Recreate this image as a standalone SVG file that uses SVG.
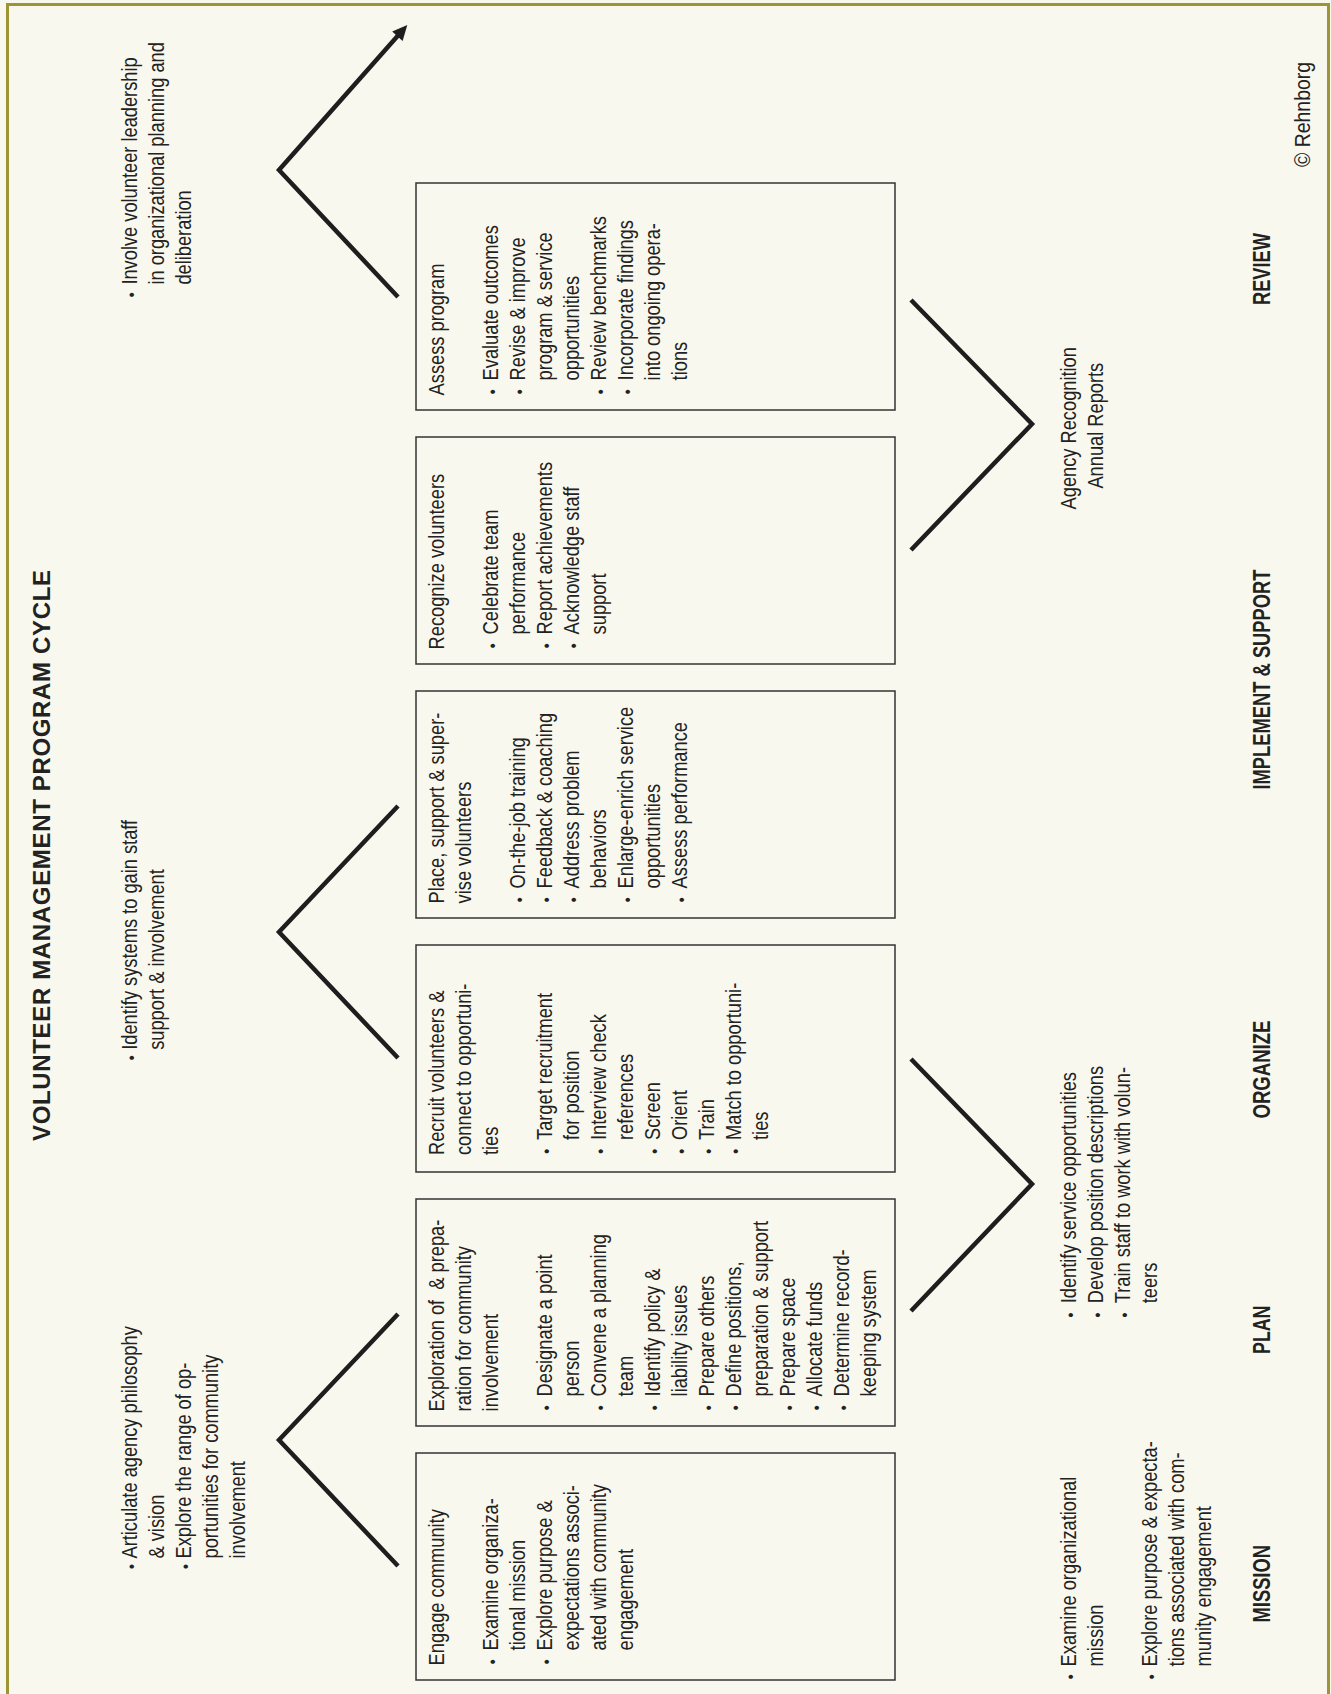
<svg xmlns="http://www.w3.org/2000/svg" width="1331" height="1694" viewBox="0 0 1331 1694">
<style>
.t{font-family:"Liberation Sans",Arial,Helvetica,sans-serif;font-size:22px;fill:#222}
.b{font-size:17px}
.lbl{font-family:"Liberation Sans",Arial,Helvetica,sans-serif;font-size:23px;font-weight:bold;fill:#222}
.title{font-family:"Liberation Sans",Arial,Helvetica,sans-serif;font-size:24px;font-weight:bold;fill:#222}
.box{fill:none;stroke:#333;stroke-width:1.5}
.chev{fill:none;stroke:#1e1e1e;stroke-width:4.5;stroke-linejoin:miter;stroke-miterlimit:10}
</style>
<rect x="0" y="0" width="1331" height="1694" fill="#f9f8ee"/>
<rect x="7.5" y="4.5" width="1321" height="1700" fill="none" stroke="#9d9535" stroke-width="3"/>
<g id="diagram" transform="translate(0 1694) rotate(-90)">
<g id="connectors">
<path class="chev" d="M128,398 L254,279 L380,398"/>
<path class="chev" d="M636,398 L762,279 L888,398"/>
<path class="chev" d="M1397,398 L1524,279 L1659.2,398.7"/>
<polygon points="1669,407.3 1653.1,402.6 1662.4,392.2" fill="#1e1e1e"/>
<path class="chev" d="M383,911 L510,1032 L635,911"/>
<path class="chev" d="M1144,911 L1270,1032 L1394,911"/>
</g>
<g id="title">
<text class="title" x="553" y="50" textLength="571" lengthAdjust="spacing">VOLUNTEER MANAGEMENT PROGRAM CYCLE</text>
</g>
<g id="node-engage">
<rect class="box" x="14" y="416" width="227" height="479"/>
<text class="t" transform="translate(28.6 0) scale(0.83 1)">
<tspan x="0" y="444">Engage community</tspan>
<tspan class="b" x="1.4" y="498">•</tspan><tspan x="18.1" y="498">Examine organiza-</tspan>
<tspan x="18.1" y="525">tional mission</tspan>
<tspan class="b" x="1.4" y="552">•</tspan><tspan x="18.1" y="552">Explore purpose &amp;</tspan>
<tspan x="18.1" y="579">expectations associ-</tspan>
<tspan x="18.1" y="606">ated with community</tspan>
<tspan x="18.1" y="633">engagement</tspan>
</text>
</g>
<g id="node-explore">
<rect class="box" x="268" y="416" width="227" height="479"/>
<text class="t" transform="translate(282.6 0) scale(0.83 1)">
<tspan x="0" y="444">Exploration of&#160; &amp; prepa-</tspan>
<tspan x="0" y="471">ration for community</tspan>
<tspan x="0" y="498">involvement</tspan>
<tspan class="b" x="1.4" y="552">•</tspan><tspan x="18.1" y="552">Designate a point</tspan>
<tspan x="18.1" y="579">person</tspan>
<tspan class="b" x="1.4" y="606">•</tspan><tspan x="18.1" y="606">Convene a planning</tspan>
<tspan x="18.1" y="633">team</tspan>
<tspan class="b" x="1.4" y="660">•</tspan><tspan x="18.1" y="660">Identify policy &amp;</tspan>
<tspan x="18.1" y="687">liability issues</tspan>
<tspan class="b" x="1.4" y="714">•</tspan><tspan x="18.1" y="714">Prepare others</tspan>
<tspan class="b" x="1.4" y="741">•</tspan><tspan x="18.1" y="741">Define positions,</tspan>
<tspan x="18.1" y="768">preparation &amp; support</tspan>
<tspan class="b" x="1.4" y="795">•</tspan><tspan x="18.1" y="795">Prepare space</tspan>
<tspan class="b" x="1.4" y="822">•</tspan><tspan x="18.1" y="822">Allocate funds</tspan>
<tspan class="b" x="1.4" y="849">•</tspan><tspan x="18.1" y="849">Determine record-</tspan>
<tspan x="18.1" y="876">keeping system</tspan>
</text>
</g>
<g id="node-recruit">
<rect class="box" x="522" y="416" width="227" height="479"/>
<text class="t" transform="translate(539 0) scale(0.83 1)">
<tspan x="0" y="444">Recruit volunteers &amp;</tspan>
<tspan x="0" y="471">connect to opportuni-</tspan>
<tspan x="0" y="498">ties</tspan>
<tspan class="b" x="1.4" y="552">•</tspan><tspan x="18.1" y="552">Target recruitment</tspan>
<tspan x="18.1" y="579">for position</tspan>
<tspan class="b" x="1.4" y="606">•</tspan><tspan x="18.1" y="606">Interview check</tspan>
<tspan x="18.1" y="633">references</tspan>
<tspan class="b" x="1.4" y="660">•</tspan><tspan x="18.1" y="660">Screen</tspan>
<tspan class="b" x="1.4" y="687">•</tspan><tspan x="18.1" y="687">Orient</tspan>
<tspan class="b" x="1.4" y="714">•</tspan><tspan x="18.1" y="714">Train</tspan>
<tspan class="b" x="1.4" y="741">•</tspan><tspan x="18.1" y="741">Match to opportuni-</tspan>
<tspan x="18.1" y="768">ties</tspan>
</text>
</g>
<g id="node-place">
<rect class="box" x="776" y="416" width="227" height="479"/>
<text class="t" transform="translate(790.6 0) scale(0.83 1)">
<tspan x="0" y="444">Place, support &amp; super-</tspan>
<tspan x="0" y="471">vise volunteers</tspan>
<tspan class="b" x="1.4" y="525">•</tspan><tspan x="18.1" y="525">On-the-job training</tspan>
<tspan class="b" x="1.4" y="552">•</tspan><tspan x="18.1" y="552">Feedback &amp; coaching</tspan>
<tspan class="b" x="1.4" y="579">•</tspan><tspan x="18.1" y="579">Address problem</tspan>
<tspan x="18.1" y="606">behaviors</tspan>
<tspan class="b" x="1.4" y="633">•</tspan><tspan x="18.1" y="633">Enlarge-enrich service</tspan>
<tspan x="18.1" y="660">opportunities</tspan>
<tspan class="b" x="1.4" y="687">•</tspan><tspan x="18.1" y="687">Assess performance</tspan>
</text>
</g>
<g id="node-recognize">
<rect class="box" x="1030" y="416" width="227" height="479"/>
<text class="t" transform="translate(1044.6 0) scale(0.83 1)">
<tspan x="0" y="444">Recognize volunteers</tspan>
<tspan class="b" x="1.4" y="498">•</tspan><tspan x="18.1" y="498">Celebrate team</tspan>
<tspan x="18.1" y="525">performance</tspan>
<tspan class="b" x="1.4" y="552">•</tspan><tspan x="18.1" y="552">Report achievements</tspan>
<tspan class="b" x="1.4" y="579">•</tspan><tspan x="18.1" y="579">Acknowledge staff</tspan>
<tspan x="18.1" y="606">support</tspan>
</text>
</g>
<g id="node-assess">
<rect class="box" x="1284" y="416" width="227" height="479"/>
<text class="t" transform="translate(1298.6 0) scale(0.83 1)">
<tspan x="0" y="444">Assess program</tspan>
<tspan class="b" x="1.4" y="498">•</tspan><tspan x="18.1" y="498">Evaluate outcomes</tspan>
<tspan class="b" x="1.4" y="525">•</tspan><tspan x="18.1" y="525">Revise &amp; improve</tspan>
<tspan x="18.1" y="552">program &amp; service</tspan>
<tspan x="18.1" y="579">opportunities</tspan>
<tspan class="b" x="1.4" y="606">•</tspan><tspan x="18.1" y="606">Review benchmarks</tspan>
<tspan class="b" x="1.4" y="633">•</tspan><tspan x="18.1" y="633">Incorporate findings</tspan>
<tspan x="18.1" y="660">into ongoing opera-</tspan>
<tspan x="18.1" y="687">tions</tspan>
</text>
</g>
<g id="note-articulate">
<text class="t" transform="translate(135.5 0) scale(0.83 1)">
<tspan class="b" x="-12.7" y="137">•</tspan><tspan x="0" y="137">Articulate agency philosophy</tspan>
<tspan x="0" y="164">&amp; vision</tspan>
<tspan class="b" x="-12.7" y="191">•</tspan><tspan x="0" y="191">Explore the range of op-</tspan>
<tspan x="0" y="218">portunities for community</tspan>
<tspan x="0" y="245">involvement</tspan>
</text>
</g>
<g id="note-identify-systems">
<text class="t" transform="translate(644.2 0) scale(0.83 1)">
<tspan class="b" x="-12.5" y="137">•</tspan><tspan x="0" y="137">Identify systems to gain staff</tspan>
<tspan x="0" y="164">support &amp; involvement</tspan>
</text>
</g>
<g id="note-involve">
<text class="t" transform="translate(1409.4 0) scale(0.83 1)">
<tspan class="b" x="-15.2" y="137">•</tspan><tspan x="0" y="137">Involve volunteer leadership</tspan>
<tspan x="0" y="164">in organizational planning and</tspan>
<tspan x="0" y="191">deliberation</tspan>
</text>
</g>
<g id="note-mission">
<text class="t" transform="translate(27.6 0) scale(0.83 1)">
<tspan class="b" x="-15.4" y="1076">•</tspan><tspan x="0" y="1076">Examine organizational</tspan>
<tspan x="0" y="1103">mission</tspan>
<tspan class="b" x="-15.4" y="1157">•</tspan><tspan x="0" y="1157">Explore purpose &amp; expecta-</tspan>
<tspan x="0" y="1184">tions associated with com-</tspan>
<tspan x="0" y="1211">munity engagement</tspan>
</text>
</g>
<g id="note-plan">
<text class="t" transform="translate(390.7 0) scale(0.83 1)">
<tspan class="b" x="-17" y="1076">•</tspan><tspan x="0" y="1076">Identify service opportunities</tspan>
<tspan class="b" x="-17" y="1103">•</tspan><tspan x="0" y="1103">Develop position descriptions</tspan>
<tspan class="b" x="-17" y="1130">•</tspan><tspan x="0" y="1130">Train staff to work with volun-</tspan>
<tspan x="0" y="1157">teers</tspan>
</text>
</g>
<g id="note-agency">
<text class="t" text-anchor="middle" transform="translate(1268.3 0) scale(0.83 1)">
<tspan x="0" y="1076">Agency Recognition</tspan>
<tspan x="0" y="1103">Annual Reports</tspan>
</text>
</g>
<g id="stage-labels">
<text class="lbl" x="71.5" y="1270" textLength="77.5" lengthAdjust="spacingAndGlyphs">MISSION</text>
<text class="lbl" x="340" y="1270" textLength="48.5" lengthAdjust="spacingAndGlyphs">PLAN</text>
<text class="lbl" x="575.5" y="1270" textLength="98" lengthAdjust="spacingAndGlyphs">ORGANIZE</text>
<text class="lbl" x="904.5" y="1270" textLength="220" lengthAdjust="spacingAndGlyphs">IMPLEMENT &amp; SUPPORT</text>
<text class="lbl" x="1389" y="1270" textLength="72" lengthAdjust="spacingAndGlyphs">REVIEW</text>
</g>
<g id="copyright">
<text class="t" x="1527" y="1310" textLength="105" lengthAdjust="spacingAndGlyphs">© Rehnborg</text>
</g>
</g>
</svg>
